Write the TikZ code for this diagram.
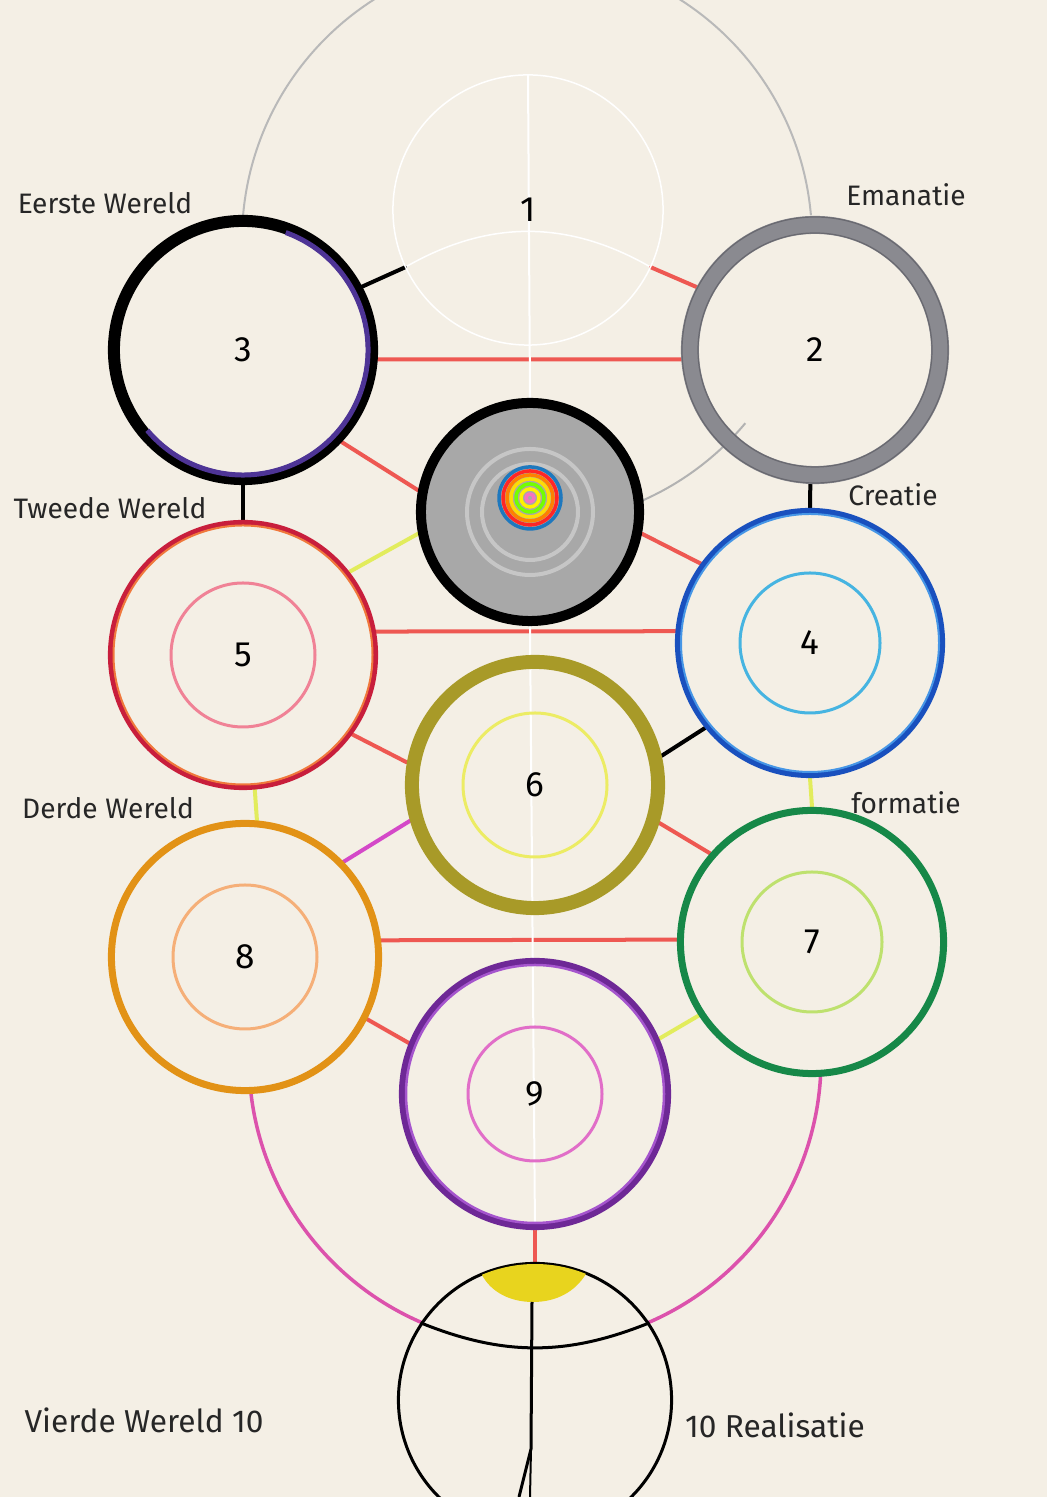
\documentclass[tikz,border=0pt]{standalone}
\usepackage{fontspec}
\setmainfont{Fira Sans}
\usepackage{tikz}
\pgfdeclarelayer{bg}
\pgfsetlayers{bg,main}

\definecolor{paper}{RGB}{244,239,229}
\definecolor{ringgray}{RGB}{138,138,144}
\definecolor{ringgraydark}{RGB}{105,105,112}
\definecolor{daatgray}{RGB}{168,168,168}
\definecolor{daatblue}{RGB}{30,120,190}
\definecolor{indigo}{RGB}{78,52,150}
\definecolor{ring5}{RGB}{200,30,60}
\definecolor{ring5in}{RGB}{240,120,60}
\definecolor{in5}{RGB}{240,130,150}
\definecolor{ring4}{RGB}{25,80,190}
\definecolor{ring4in}{RGB}{70,150,230}
\definecolor{in4}{RGB}{70,180,225}
\definecolor{ring6}{RGB}{168,154,40}
\definecolor{in6}{RGB}{236,236,100}
\definecolor{ring8}{RGB}{226,146,22}
\definecolor{in8}{RGB}{245,175,120}
\definecolor{ring7}{RGB}{22,136,72}
\definecolor{in7}{RGB}{190,225,110}
\definecolor{ring9}{RGB}{110,40,150}
\definecolor{ring9in}{RGB}{165,85,205}
\definecolor{in9}{RGB}{225,110,200}
\definecolor{redlink}{RGB}{238,88,82}
\definecolor{yellowlink}{RGB}{226,236,92}
\definecolor{magentalink}{RGB}{212,72,200}
\definecolor{pinkarc}{RGB}{220,82,172}
\definecolor{lens}{RGB}{232,212,30}

\tikzset{
  sefira/.style={
    circle,
    inner sep=0pt,
    font=\fontsize{10}{12}\selectfont
  },
  link/.style={
    line width=0.04cm,
    line cap=round
  },
  world label/.style={
    font=\fontsize{8}{10}\selectfont,
    text=black!85
  },
  inner ring/.style={
    line width=0.03cm
  }
}

\begin{document}
\begin{tikzpicture}[x=0.01cm, y=0.01cm, line join=round]
  \useasboundingbox (0,0) rectangle (1047,1497);

  % ===================================
  % de sefirot (cirkels)
  % ===================================
  \node[sefira, draw=white, line width=0.015cm, minimum size=2.7cm] (c1) at (528,1287) {1};
  \node[sefira, draw=black, line width=0.12cm, minimum size=2.58cm] (c3) at (243,1147) {3};
  \node[sefira, draw=ringgray, line width=0.18cm, minimum size=2.5cm] (c2) at (815,1147) {2};
  \node[sefira, draw=black, fill=daatgray, line width=0.10cm, minimum size=2.18cm] (daat) at (530,985) {};
  \node[sefira, draw=ring5, line width=0.05cm, minimum size=2.65cm] (c5) at (243,842) {5};
  \node[sefira, draw=ring4, line width=0.06cm, minimum size=2.64cm] (c4) at (810,854) {4};
  \node[sefira, draw=ring6, line width=0.14cm, minimum size=2.46cm] (c6) at (535,712) {6};
  \node[sefira, draw=ring8, line width=0.07cm, minimum size=2.67cm] (c8) at (245,540) {8};
  \node[sefira, draw=ring7, line width=0.07cm, minimum size=2.63cm] (c7) at (812,555) {7};
  \node[sefira, draw=ring9, line width=0.07cm, minimum size=2.65cm] (c9) at (535,403) {9};
  \node[sefira, draw=black, line width=0.03cm, minimum size=2.73cm] (c10) at (535,97) {};

  % kleur aan de binnenkant van de ringen
  \draw[indigo, line width=0.05cm] (c3.center) ++(70:125) arc[start angle=70, end angle=-140, radius=125];
  \draw[ringgraydark, line width=0.012cm] (c2.center) circle[radius=133];
  \draw[ringgraydark, line width=0.012cm] (c2.center) circle[radius=117];
  \draw[ring5in, line width=0.02cm] (c5.center) circle[radius=129.5];
  \draw[ring4in, line width=0.02cm] (c4.center) circle[radius=129];
  \draw[ring9in, line width=0.025cm] (c9.center) circle[radius=129];

  % binnenste cirkels
  \foreach \n/\c/\r in {c5/in5/72, c4/in4/70, c6/in6/72, c8/in8/72, c7/in7/70, c9/in9/67} {
    \draw[inner ring, \c] (\n.center) circle[radius=\r];
  }

  % het hart van daat
  \foreach \r in {48,63} {
    \draw[white, opacity=0.35, line width=0.04cm] (daat.center) circle[radius=\r];
  }
  \foreach \r/\c in {31/daatblue, 27/red!85, 23/orange, 19/yellow!80!orange, 14/green!55!yellow, 9/yellow, 4/magenta!55} {
    \draw[\c, line width=0.035cm] ([yshift=4]daat.center) circle[radius=\r];
  }

  % ===================================
  % verbindingen (paden)
  % ===================================
  \begin{pgfonlayer}{bg}
    \fill[paper] (0,0) rectangle (1047,1497);

    % grote grijze boog rond 1
    \coordinate (kroon) at (527,1257);
    \draw[gray!55, line width=0.02cm] (kroon) ++(5:285) arc[start angle=5, end angle=175, radius=285];
    \draw[gray!60, line width=0.02cm] (kroon) ++(-66:285) arc[start angle=-66, end angle=-40, radius=285];

    % witte boog onder 1
    \draw[white, line width=0.015cm] (c1.205) to[bend left=30] (c1.-25);

    \draw[link, black] (c3.28) -- (c1.205);
    \draw[link, redlink] (c1.-25) -- (c2.152);
    \draw[link, redlink] (c3.-4) -- (c2.184);
    \draw[link, redlink] (c3.-43) -- (daat.169);
    \draw[link, yellowlink] (c5.38) -- (daat.191);
    \draw[link, redlink] (daat.-11) -- (c4.144);
    \draw[link, black] (c3.270) -- (c5.90);
    \draw[link, black] (c2.268) -- (c4.90);
    \draw[link, redlink] (c5.10) -- (c4.175);
    \draw[link, redlink] (c5.-36) -- (c6.170);
    \draw[link, black] (c6.13) -- (c4.219);
    \draw[link, yellowlink] (c5.275) -- (c8.85);
    \draw[link, yellowlink] (c4.270) -- (c7.90);
    \draw[link, magentalink] (c8.44) -- (c6.196);
    \draw[link, redlink] (c6.-17) -- (c7.139);
    \draw[link, redlink] (c8.7) -- (c7.179);
    \draw[link, redlink] (c8.-27) -- (c9.158);
    \draw[link, yellowlink] (c9.24) -- (c7.213);
    \draw[link, redlink] (c9.270) -- (c10.90);

    % witte middenas
    \draw[white, line width=0.02cm] (c1.90) -- (daat.90);
    \draw[white, line width=0.02cm] (daat.270) -- (c9.270);

    % roze boog naar 10
    \coordinate (boogm) at (535,437);
    \draw[pinkarc, line width=0.035cm] (boogm) ++(186.5:286) arc[start angle=186.5, end angle=247, radius=286];
    \draw[pinkarc, line width=0.035cm] (boogm) ++(293:286) arc[start angle=293, end angle=357, radius=286];
  \end{pgfonlayer}

  % ===================================
  % figuur in 10
  % ===================================
  \fill[lens] (c10.center) ++(113:136) arc[start angle=113, end angle=68, radius=136]
    .. controls (575,205) and (556,195) .. (533,195)
    .. controls (510,195) and (491,205) .. cycle;
  \draw[black, line width=0.03cm] (c10.146) to[bend right=22] (c10.34);
  \coordinate (hoofd) at (532,195);
  \coordinate (heup) at (531,48);
  \coordinate (voetL) at (519,0);
  \coordinate (voetR) at (530,0);
  \draw[black, line width=0.03cm] (hoofd) -- (heup) -- (voetL);
  \draw[black, line width=0.02cm] (heup) -- (voetR);

  % ===================================
  % opschriften
  % ===================================
  \node[world label] (eerste) at (105,1294) {Eerste Wereld};
  \node[world label] (emanatie) at (906,1302) {Emanatie};
  \node[world label] (tweede) at (110,989) {Tweede Wereld};
  \node[world label] (creatie) at (893,1002) {Creatie};
  \node[world label] (derde) at (108,689) {Derde Wereld};
  \node[world label] (formatie) at (906,694) {formatie};
  \node[world label, font=\fontsize{9}{11}\selectfont] (vierde) at (144,77) {Vierde Wereld 10};
  \node[world label, font=\fontsize{9}{11}\selectfont] (realisatie) at (775,72) {10 Realisatie};

\end{tikzpicture}
\end{document}
